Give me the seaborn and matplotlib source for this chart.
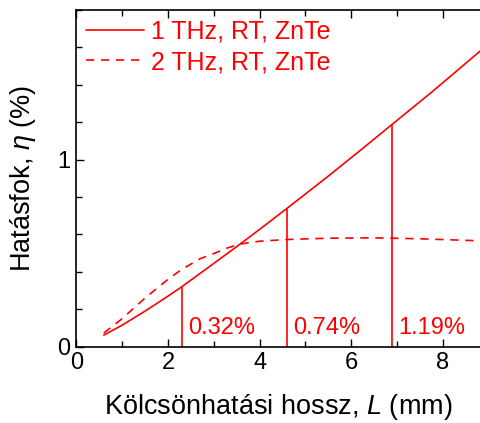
import numpy as np
import pandas as pd
import matplotlib
matplotlib.use("Agg")
import matplotlib.pyplot as plt
from matplotlib.ticker import MultipleLocator
import seaborn as sns

# Interaction length L (mm) and efficiency (%) for each pump case
L_1thz = [0.6, 1.0, 1.5, 2.0, 2.3, 3.0, 3.5, 4.0, 4.6, 5.5, 6.2, 6.9, 7.8, 8.81]
eta_1thz = [0.062, 0.115, 0.19, 0.27, 0.32, 0.445, 0.535, 0.627, 0.74, 0.912, 1.05, 1.19, 1.37, 1.58]

L_2thz = [0.6, 1.0, 1.5, 2.0, 2.3, 2.7, 3.0, 3.3, 3.6, 4.0, 4.6, 5.5, 6.5, 7.5, 8.81]
eta_2thz = [0.073, 0.15, 0.26, 0.36, 0.413, 0.47, 0.498, 0.528, 0.55, 0.564, 0.573, 0.580, 0.582, 0.577, 0.566]

labels = ["1 THz, RT, ZnTe", "2 THz, RT, ZnTe"]

# Marked optimum lengths and the efficiency reached there
mark_L = [2.3, 4.6, 6.9]
mark_eta = [0.32, 0.74, 1.19]

sns.set_style("white")
plt.rcParams["font.family"] = ["Liberation Sans", "DejaVu Sans"]
plt.rcParams["mathtext.fontset"] = "custom"
plt.rcParams["mathtext.it"] = "Liberation Sans:italic"
plt.rcParams["mathtext.rm"] = "Liberation Sans"
plt.rcParams["text.color"] = "black"
plt.rcParams["axes.labelcolor"] = "black"

df = pd.concat([
    pd.DataFrame({"L": L_1thz, "eta": eta_1thz, "case": labels[0]}),
    pd.DataFrame({"L": L_2thz, "eta": eta_2thz, "case": labels[1]}),
])

fig = plt.figure(figsize=(4.8, 4.23), dpi=100)
ax = fig.add_axes([76.3 / 480, 76.3 / 423, 1 - 76.3 / 480, 336.7 / 423])

red = "#ff0000"
sns.lineplot(data=df, x="L", y="eta", style="case", style_order=labels,
             dashes={labels[0]: "", labels[1]: (5, 4)}, color=red,
             linewidth=1.2, ax=ax, estimator=None, sort=False)

for x, v in zip(mark_L, mark_eta):
    ax.vlines(x, 0, v, color=red, linewidth=1.2)
    ax.text(x + 0.13, 0.1, f"{v:.2f}%", color=red, fontsize=17,
            ha="left", va="center")

ax.set_xlim(0, 8.81)
ax.set_ylim(0, 1.8)
ax.xaxis.set_major_locator(MultipleLocator(2))
ax.xaxis.set_minor_locator(MultipleLocator(1))
ax.yaxis.set_major_locator(MultipleLocator(1))
ax.yaxis.set_minor_locator(MultipleLocator(0.2))
ax.tick_params(which="both", direction="in", top=True, right=False,
               bottom=True, left=True, width=1.0, colors="black")
ax.tick_params(which="major", length=6, labelsize=17, pad=4)
ax.tick_params(which="minor", length=4)

for side in ["left", "bottom", "top"]:
    ax.spines[side].set_visible(True)
    ax.spines[side].set_color("black")
    ax.spines[side].set_linewidth(1.2)
ax.spines["right"].set_visible(False)

ax.set_xlabel("Kölcsönhatási hossz, $L$ (mm)", fontsize=19.5, labelpad=13)
ax.set_ylabel("Hatásfok, $\\eta$ (%)", fontsize=19.5, labelpad=14)

leg = ax.legend(loc="upper left", frameon=False, fontsize=18,
                handlelength=2.3, handletextpad=0.3, labelspacing=0.25,
                bbox_to_anchor=(-0.012, 1.015), borderaxespad=0.2,
                labelcolor=red)
for h in leg.get_lines():
    h.set_color(red)

fig.savefig("out.png", dpi=100)
